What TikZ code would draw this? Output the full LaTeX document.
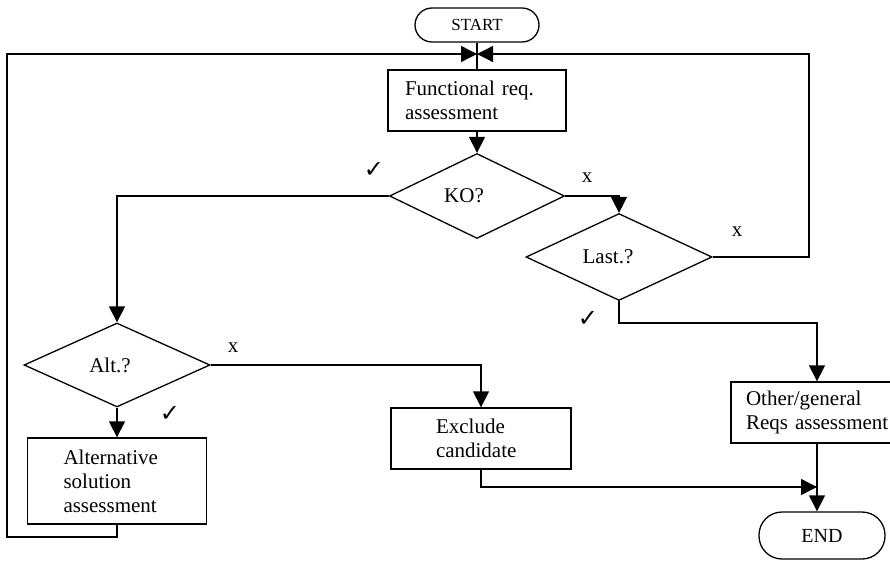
\documentclass[tikz,border=0pt]{standalone}
\usepackage{fontspec}
\setmainfont{Liberation Serif}
\newfontfamily\tickfont{DejaVu Sans}
\usetikzlibrary{shapes.geometric,arrows.meta}

\begin{document}
\begin{tikzpicture}[x=1pt,y=-1pt,line width=1.3pt,
	font=\fontsize{21}{24}\selectfont,
	>={Triangle[length=16pt,width=16pt]},
	term/.style={draw,rounded corners=17pt,minimum width=124pt,minimum height=34pt,inner sep=0pt},
	task/.style={draw,align=left,minimum height=61pt,inner ysep=0pt},
	test/.style={draw,diamond,inner sep=0pt,minimum width=184pt,minimum height=84pt},
	tick/.style={font=\tickfont\fontsize{24}{24}\selectfont}]
	\useasboundingbox (0,0) rectangle (890,561);

	\node[term,font=\fontsize{17}{18}\selectfont] (start) at (477,25) {START};
	\node[task,text width=144pt,inner xsep=17pt] (func) at (477,100.5) {Functional req.\\assessment};
	\node[test,minimum width=175pt,minimum height=85pt] (ko) at (477,196) {KO?\hspace*{26pt}};
	\node[test,minimum width=186pt,minimum height=85pt] (last) at (619,257) {Last.?\hspace*{22pt}};
	\node[test,minimum width=186pt] (alt) at (117,365) {Alt.?\hspace*{14pt}};
	\node[task,text width=107pt,inner xsep=36pt,minimum height=86pt] (altsol) at (117,481) {Alternative\\solution\\assessment};
	\node[task,text width=90pt,inner xsep=45pt] (excl) at (481,438.5) {Exclude\\candidate};
	\node[task,text width=145pt,inner xsep=15pt] (other) at (818.5,412.5) {Other/general\\Reqs assessment};
	\node[term,font=\fontsize{20}{22}\selectfont,minimum width=126pt,minimum height=47pt,rounded corners=23pt] (end) at (822,535.5) {END};

	\coordinate (join) at (477,54);  % both loops come back here
	\coordinate (rloop) at (809,54);
	\coordinate (lloop) at (7,537);
	\coordinate (lturn) at (817,323);
	\coordinate (merge) at (817,487);

	\draw (start) -- (func);
	\draw[->] (func) -- (ko);
	\draw[->] (ko.west) -| (alt.north);
	\draw[->] (ko.east) -| (last.north);
	\draw[->] (last.east) -| (rloop) -- (join);
	\draw[->] (last.south) |- (lturn) -- (lturn |- other.north);
	\draw[->] (alt.east) -| (excl.north);
	\draw[->] (alt) -- (altsol);
	\draw[->] (altsol.south) |- (lloop) |- (join);
	\draw[->] (excl.south) |- (merge);
	\draw[->] (merge |- other.south) -- (merge |- end.north);

	\foreach \p [count=\i] in {(587,178),(737,232),(233,348)}
		\node (no\i) at \p {x};
	\foreach \p [count=\i] in {(374,170),(588,319),(170,414)}
		\node[tick] (ok\i) at \p {✓};
\end{tikzpicture}
\end{document}
